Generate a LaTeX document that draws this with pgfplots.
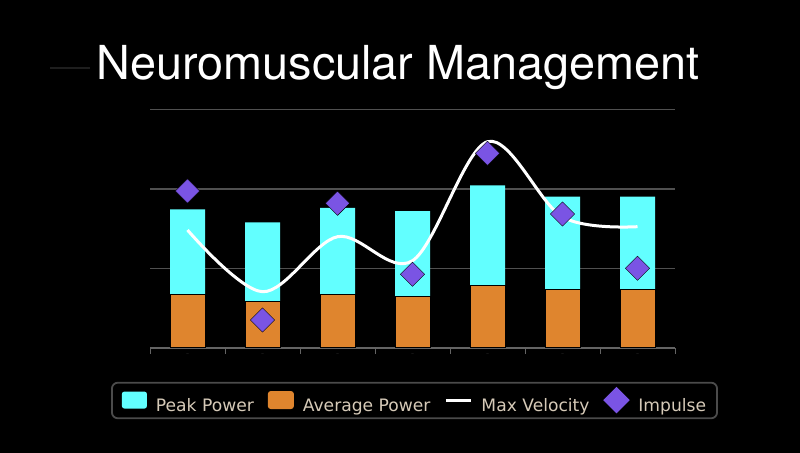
\documentclass[border=0pt]{standalone}
\usepackage{pgfplots}
\pgfplotsset{compat=1.18}
\usepackage{fontspec}
\setmainfont{DejaVu Sans}
\newfontfamily\titlefont{TeX Gyre Heros}
\definecolor{cyanbar}{RGB}{98,255,255}
\definecolor{orangebar}{RGB}{223,133,46}
\definecolor{purplemark}{RGB}{122,84,228}
\definecolor{gridgrey}{RGB}{80,80,80}
\definecolor{axisgrey}{RGB}{100,100,100}
\definecolor{legtext}{RGB}{214,202,184}
\definecolor{legborder}{RGB}{75,75,75}
\begin{document}
\begin{tikzpicture}[x=1bp,y=1bp]
\fill[black] (0,0) rectangle (800,453);
\draw[color={rgb,255:red,30;green,30;blue,30}, line width=1.5bp] (50,385) -- (90,385);
\node[text=white, anchor=base, inner sep=0pt, font=\titlefont\fontsize{47}{50}\selectfont] at (398,373) {Neuromuscular Management};
\begin{axis}[
  at={(150bp,105bp)}, anchor=south west,
  scale only axis, width=525bp, height=238.5bp,
  xmin=-0.5, xmax=6.5, ymin=0, ymax=3,
  axis x line*=bottom, axis y line*=left,
  y axis line style={draw=none},
  x axis line style={draw=axisgrey, line width=1.2bp, -},
  ytick={1,2,3}, yticklabels={}, ymajorgrids,
  grid style={draw=gridgrey, line width=1.2bp},
  major y tick style={draw=none},
  xtick={0,1,2,3,4,5,6},
  xticklabels={--,--,--,--,--,--,--},
  xticklabel style={text={rgb,255:red,45;green,45;blue,45}, font=\fontsize{6}{6}\selectfont, yshift=2bp},
  major x tick style={draw=none},
  minor xtick={-0.5,0.5,1.5,2.5,3.5,4.5,5.5,6.5},
  minor x tick style={draw=axisgrey, line width=0.8bp},
  minor tick length=6bp, tick align=outside,
  clip=false,
  legend columns=-1,
  legend style={
    at={(rel axis cs:0.5038,-0.2201)}, anchor=center,
    draw=legborder, line width=1.8bp, fill=black, rounded corners=6bp,
    text=legtext, font=\fontsize{17.2}{18}\selectfont,
    inner xsep=10bp, inner ysep=4.5bp,
    nodes={inner sep=1bp},
    /tikz/every odd column/.append style={column sep=8bp},
    /tikz/every even column/.append style={column sep=13bp},
  },
]
\addplot[ybar, bar width=35bp, bar shift=0pt, fill=cyanbar, draw=none,
  legend image code/.code={\fill[cyanbar, rounded corners=2.5bp] (0bp,-3bp) rectangle (25bp,14bp);}]
  coordinates {(0,1.745) (1,1.581) (2,1.761) (3,1.723) (4,2.047) (5,1.903) (6,1.903)};
\addlegendentry{Peak Power}
\addplot[ybar, bar width=35bp, bar shift=0pt, fill=orangebar, draw=black, line width=1bp,
  legend image code/.code={\fill[orangebar, rounded corners=2.5bp] (0bp,-3bp) rectangle (25bp,14bp);}]
  coordinates {(0,0.667) (1,0.582) (2,0.667) (3,0.645) (4,0.784) (5,0.730) (6,0.730)};
\addlegendentry{Average Power}
\addplot[white, line width=3bp, smooth, tension=0.55,
  legend image code/.code={\draw[white, line width=3bp, sharp corners] (0bp,5.5bp) -- (25bp,5.5bp);}]
  coordinates {(0,1.484) (1,0.708) (2,1.400) (3,1.098) (4,2.595) (5,1.648) (6,1.526)};
\addlegendentry{Max Velocity}
\addplot[only marks, mark=square*, mark size=8.6bp,
  mark options={rotate=45, fill=purplemark, draw=none, sharp corners},
  legend image code/.code={\fill[purplemark, sharp corners] (12bp,-6.5bp) -- (24bp,5.5bp) -- (12bp,17.5bp) -- (0bp,5.5bp) -- cycle;}]
  coordinates {(0,1.975) (1,0.352) (2,1.820) (3,0.927) (4,2.449) (5,1.686) (6,1.003)};
\addlegendentry{Impulse}
\end{axis}
\end{tikzpicture}
\end{document}
